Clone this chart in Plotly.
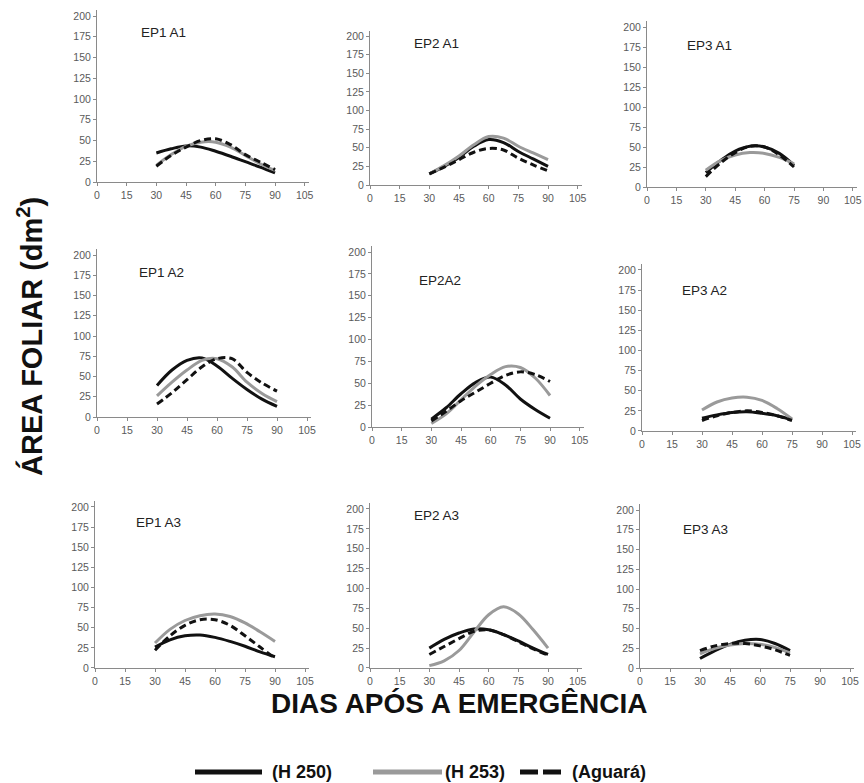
import plotly.graph_objects as go

W, H = 864, 783

# ---------------- data ----------------
days_long = [30, 37.5, 45, 52.5, 60, 67.5, 75, 82.5, 90]
days_short = [30, 37.5, 45, 52.5, 60, 67.5, 75]

x_ticks = [0, 15, 30, 45, 60, 75, 90, 105]
y_ticks = [0, 25, 50, 75, 100, 125, 150, 175, 200]

series_names = ["(H 250)", "(H 253)", "(Aguará)"]
panel_titles = ["EP1 A1", "EP2 A1", "EP3 A1",
                "EP1 A2", "EP2A2", "EP3 A2",
                "EP1 A3", "EP2 A3", "EP3 A3"]

# EP1 A1
h250_ep1_a1 = [35, 40, 43.5, 42, 37, 31, 24.5, 18, 11]
h253_ep1_a1 = [20, 33, 43, 48, 48, 42, 32, 22, 14]
agu_ep1_a1 = [19, 32, 42, 50, 52, 45, 33, 24, 15]
# EP2 A1
h250_ep2_a1 = [15, 25, 37, 52, 61, 57, 45, 35, 25]
h253_ep2_a1 = [15, 26, 39, 54, 65, 63, 52, 43, 34]
agu_ep2_a1 = [15, 24, 34, 44, 49, 47, 36, 27, 19]
# EP3 A1
h250_ep3_a1 = [18, 33, 45, 51, 50, 42, 27]
h253_ep3_a1 = [21, 33, 40, 43, 42, 37, 29]
agu_ep3_a1 = [13, 30, 43, 51, 50, 40, 25]
# EP1 A2
h250_ep1_a2 = [39, 58, 70, 73, 63, 48, 34, 22, 13]
h253_ep1_a2 = [26, 43, 58, 70, 72, 62, 43, 29, 19]
agu_ep1_a2 = [16, 30, 46, 62, 72, 72, 55, 42, 32]
# EP2A2
h250_ep2_a2 = [9, 22, 38, 51, 57, 48, 32, 20, 10]
h253_ep2_a2 = [4, 15, 31, 47, 60, 69, 68, 56, 36]
agu_ep2_a2 = [7, 18, 30, 40, 50, 59, 63, 60, 52]
# EP3 A2
h250_ep3_a2 = [16, 20, 23, 24, 22, 19, 14]
h253_ep3_a2 = [26, 36, 41, 42, 38, 28, 15]
agu_ep3_a2 = [13, 19, 23, 25, 23, 19, 13]
# EP1 A3
h250_ep1_a3 = [26, 35, 40, 41, 38, 33, 27, 20, 14]
h253_ep1_a3 = [31, 48, 59, 65, 67, 64, 56, 45, 33]
agu_ep1_a3 = [22, 40, 53, 60, 60, 53, 40, 26, 12]
# EP2 A3
h250_ep2_a3 = [25, 36, 44, 49, 48, 42, 34, 25, 17]
h253_ep2_a3 = [3, 9, 22, 45, 67, 77, 68, 48, 25]
agu_ep2_a3 = [17, 27, 37, 46, 48, 42, 33, 24, 16]
# EP3 A3
h250_ep3_a3 = [12, 22, 30, 35, 36, 31, 22]
h253_ep3_a3 = [18, 25, 29, 31, 30, 26, 19]
agu_ep3_a3 = [22, 28, 31, 31, 28, 23, 16]

panel_days = [days_long, days_long, days_short,
              days_long, days_long, days_short,
              days_long, days_long, days_short]
panel_series = [
    (h250_ep1_a1, h253_ep1_a1, agu_ep1_a1),
    (h250_ep2_a1, h253_ep2_a1, agu_ep2_a1),
    (h250_ep3_a1, h253_ep3_a1, agu_ep3_a1),
    (h250_ep1_a2, h253_ep1_a2, agu_ep1_a2),
    (h250_ep2_a2, h253_ep2_a2, agu_ep2_a2),
    (h250_ep3_a2, h253_ep3_a2, agu_ep3_a2),
    (h250_ep1_a3, h253_ep1_a3, agu_ep1_a3),
    (h250_ep2_a3, h253_ep2_a3, agu_ep2_a3),
    (h250_ep3_a3, h253_ep3_a3, agu_ep3_a3),
]

# ---------------- layout geometry (pixels) ----------------
# (x of day 0, px per day, y of value 0, px per unit)
geom = [
    (97, 1.978, 182, 0.830), (370, 1.978, 185, 0.745), (647, 1.960, 187, 0.800),
    (97, 2.000, 417, 0.810), (372, 1.978, 427, 0.875), (642, 2.000, 431, 0.805),
    (95, 2.000, 668, 0.805), (370, 1.978, 668, 0.795), (640, 2.000, 668, 0.790),
]
# title positions in data coordinates
title_pos = [(21, 180), (21, 190), (19.5, 177),
             (20, 179), (22.5, 167), (19, 175),
             (19.5, 181), (21, 192), (20.5, 175)]

styles = [
    dict(color="#111111", width=3),
    dict(color="#9a9a9a", width=3),
    dict(color="#111111", width=3, dash="7px,4px"),
]

fig = go.Figure()
FONT = "Liberation Sans, Arial, sans-serif"

for i in range(9):
    x0, pux, y0, puy = geom[i]
    xmax = min(107.0, (W - x0) / pux)
    ymax = 207.0
    xd = [x0 / W, (x0 + xmax * pux) / W]
    yd = [1 - y0 / H, 1 - (y0 - ymax * puy) / H]
    sfx = "" if i == 0 else str(i + 1)
    xa = "x" + sfx
    ya = "y" + sfx
    for s in range(3):
        fig.add_trace(go.Scatter(
            x=panel_days[i], y=panel_series[i][s], mode="lines",
            line=dict(shape="spline", smoothing=1.0, **styles[s]),
            xaxis=xa, yaxis=ya, showlegend=False, name=series_names[s]))
    axis_common = dict(showline=True, linecolor="#8a8a8a", linewidth=1,
                       showgrid=False, zeroline=False, ticks="outside",
                       ticklen=3, tickcolor="#8a8a8a", automargin=False,
                       tickfont=dict(family=FONT, size=10.5, color="#5a5a5a"))
    fig.layout["xaxis" + sfx] = dict(domain=xd, range=[0, xmax], anchor=ya,
                                     tickvals=x_ticks, ticktext=[str(v) for v in x_ticks],
                                     **axis_common)
    fig.layout["yaxis" + sfx] = dict(domain=yd, range=[0, ymax], anchor=xa,
                                     tickvals=y_ticks, ticktext=[str(v) for v in y_ticks],
                                     **axis_common)
    fig.add_annotation(x=title_pos[i][0], y=title_pos[i][1], xref=xa, yref=ya,
                       text=panel_titles[i], showarrow=False, xanchor="left",
                       yanchor="middle",
                       font=dict(family=FONT, size=13.5, color="#222222"))

# axis titles
fig.add_annotation(x=459 / W, y=1 - 703 / H, xref="paper", yref="paper",
                   text="<b>DIAS APÓS A EMERGÊNCIA</b>", showarrow=False,
                   font=dict(family=FONT, size=28, color="#111111"),
                   xanchor="center", yanchor="middle")
fig.add_annotation(x=30 / W, y=1 - 337 / H, xref="paper", yref="paper",
                   text="<b>ÁREA FOLIAR (dm<sup>2</sup>)</b>", showarrow=False,
                   textangle=-90,
                   font=dict(family=FONT, size=29, color="#111111"),
                   xanchor="center", yanchor="middle")

# legend (drawn manually)
leg_y = 1 - 772 / H
leg_items = [(195, 262, 270, "#111111", None),
             (373, 442, 443, "#9a9a9a", None),
             (520, 562, 570, "#111111", "18px,5px")]
for (xa0, xa1, tx, col, dash), name in zip(leg_items, series_names):
    line = dict(color=col, width=5)
    if dash:
        line["dash"] = dash
    fig.add_shape(type="line", xref="paper", yref="paper",
                  x0=xa0 / W, x1=xa1 / W, y0=leg_y, y1=leg_y, line=line)
    fig.add_annotation(x=tx / W, y=leg_y, xref="paper", yref="paper",
                       text="<b>" + name + "</b>", showarrow=False,
                       xanchor="left", yanchor="middle",
                       font=dict(family=FONT, size=18, color="#111111"))

fig.update_layout(width=W, height=H, margin=dict(l=0, r=0, t=0, b=0),
                  paper_bgcolor="white", plot_bgcolor="white",
                  showlegend=False)

fig.write_html("out.html",
               config={"displayModeBar": False},
               post_script="document.body.style.margin='0';document.body.style.padding='0';")
